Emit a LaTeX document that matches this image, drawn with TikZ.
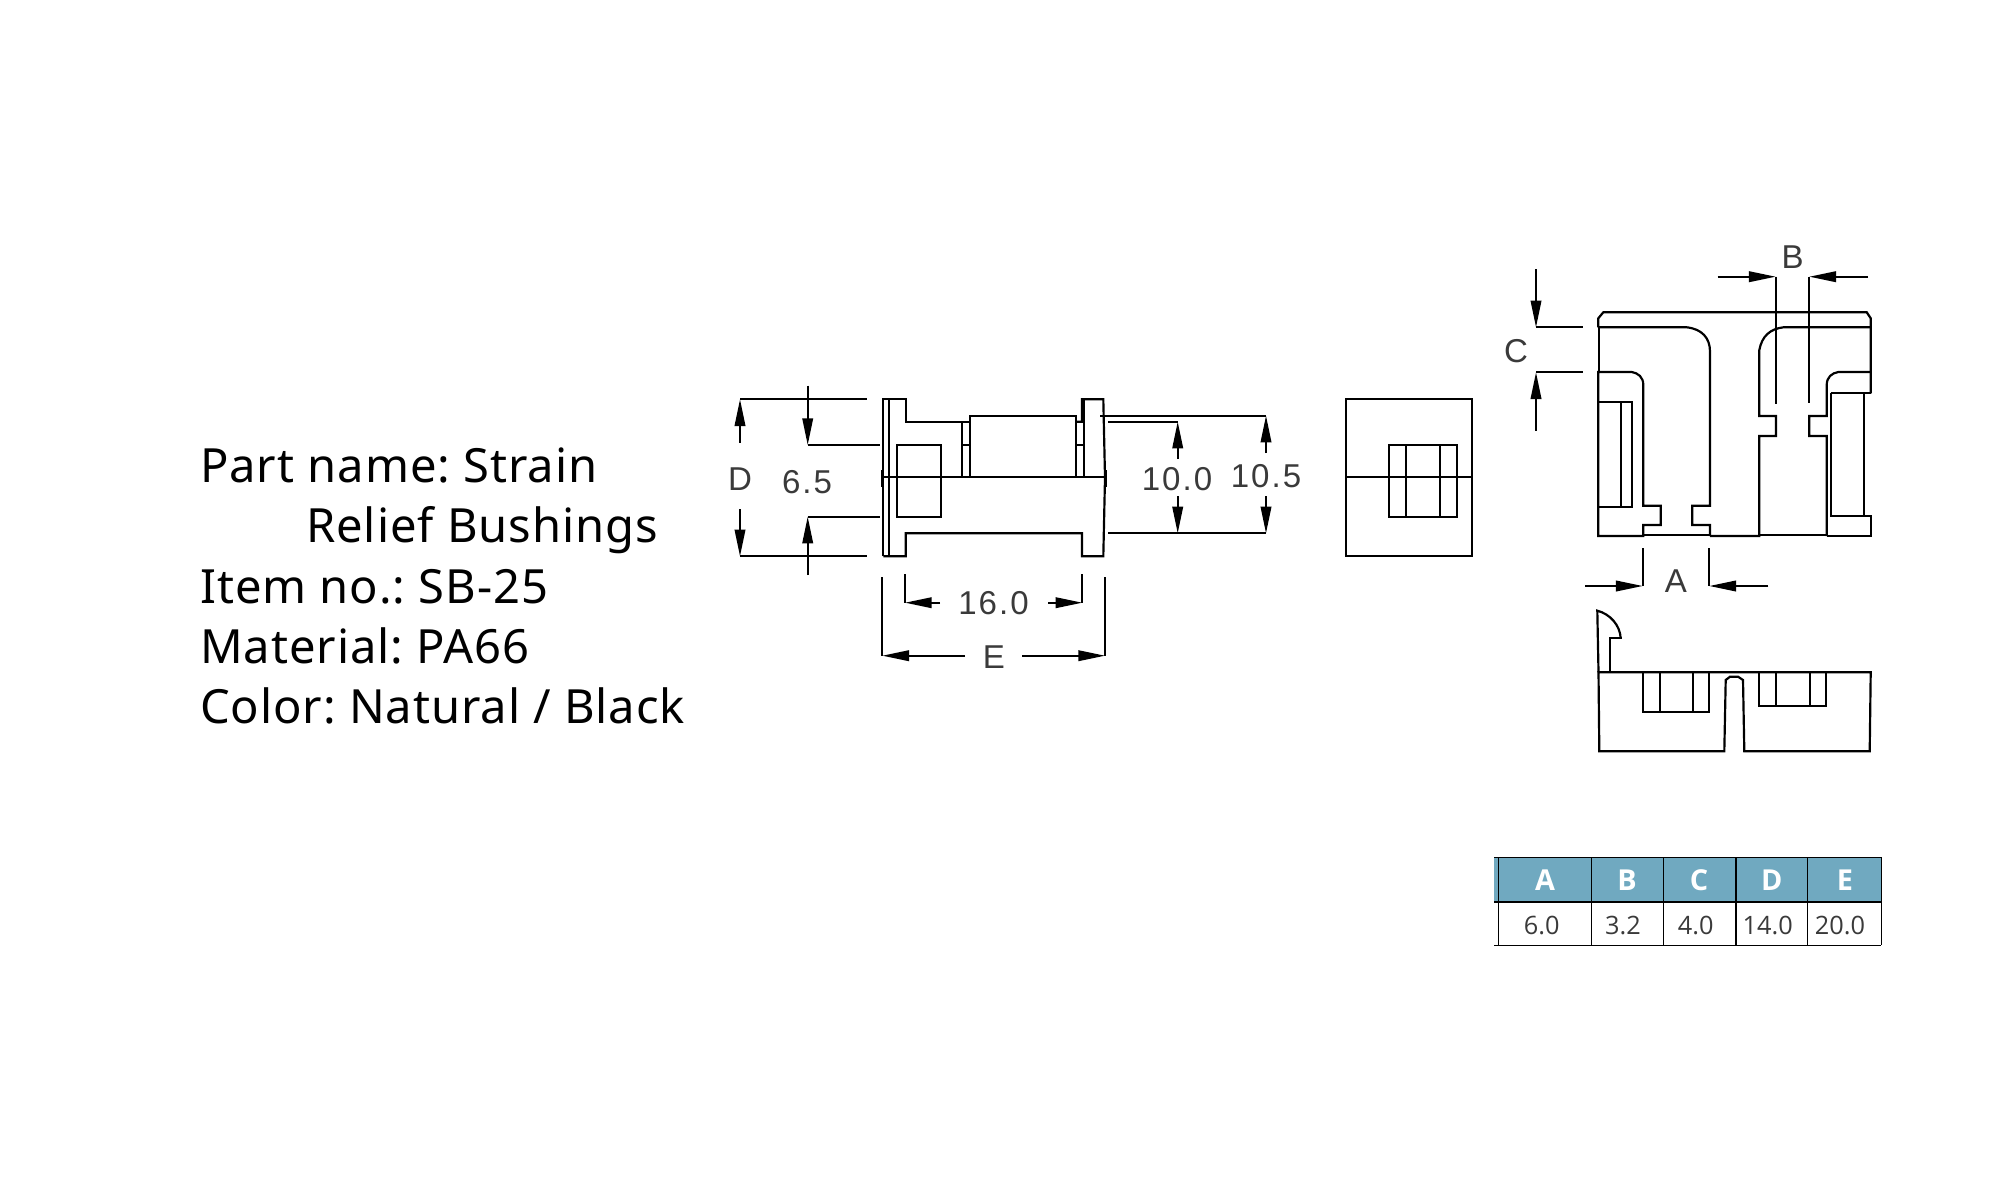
\documentclass[tikz,border=0pt]{standalone}
\usepackage{fontspec}
\setmainfont{Noto Sans}[LetterSpace=2]
\newfontfamily\dimfont{Liberation Sans}[LetterSpace=6]
\newfontfamily\tablefont{Open Sans}
\usetikzlibrary{arrows.meta}
\definecolor{headblue}{HTML}{70A9C0}
\definecolor{dimgrey}{HTML}{3A3A3A}
\tikzset{
  >={Triangle[length=7.6pt,width=3pt]},
  part/.style={line width=0.62pt, line join=miter},
  dimline/.style={line width=0.55pt},
  dimtext/.style={font=\dimfont\fontsize{9.4}{11}\selectfont, text=dimgrey, inner sep=0pt},
  titletext/.style={font=\frenchspacing\fontsize{13.4}{16}\selectfont, anchor=base west, inner sep=0pt},
  headtext/.style={font=\tablefont\bfseries\fontsize{8.2}{10}\selectfont, text=white, inner sep=0pt},
  valtext/.style={font=\tablefont\fontsize{7.2}{9}\selectfont, text=dimgrey, inner sep=0pt},
  rule/.style={line width=0.45pt}
}
\begin{document}
\begin{tikzpicture}[x=0.01cm, y=-0.01cm]
  \useasboundingbox (0, 0) rectangle (2000, 1200);

  % part data
  \node (partname) [titletext] at (199.5, 482.5) {Part name: Strain};
  \node (relief) [titletext] at (305.5, 542.5) {Relief Bushings};
  \node (itemno) [titletext] at (199.5, 603) {Item no.: SB-25};
  \node (material) [titletext] at (199.5, 663) {Material: PA66};
  \node (colour) [titletext] at (199.5, 723) {Color: Natural / Black};

  % side view
  \draw [part] (883.3, 556.3) -- (883.3, 399.3) -- (905.7, 399.3) -- (905.7, 421.7) -- (962, 421.7) -- (970, 421.7);
  \draw [part] (889, 399.3) -- (889, 556.3);
  \draw [part] (883.3, 556.3) -- (905.7, 556.3) -- (905.7, 533.3) -- (1082, 533.3) -- (1082, 556.3) -- (1103.3, 556.3) -- (1105, 477.3) -- (1103.3, 399.3) -- (1082, 399.3) -- (1082, 421.7) -- (1076, 421.7);
  \draw [part] (962, 421.7) -- (962, 477.3);
  \draw [part] (970, 477.3) -- (970, 415.7) -- (1076, 415.7) -- (1076, 477.3);
  \draw [part] (1084, 399.3) -- (1084, 477.3);
  \draw [part] (962, 445.3) -- (970, 445.3);
  \draw [part] (1076, 445.3) -- (1084, 445.3);
  \draw [part] (1076, 421.7) -- (1084, 421.7);
  \draw [part] (883.3, 477.3) -- (1105, 477.3);
  \draw [part] (882.5, 470) -- (882.5, 487);
  \draw [part] (1105.5, 470) -- (1105.5, 487);
  \draw [part] (896.7, 445.3) rectangle (941, 516.7);

  % side view dimensions
  \draw [dimline] (740, 399.3) -- (866.7, 399.3);
  \draw [dimline] (740, 556.3) -- (866.7, 556.3);
  \draw [dimline, ->] (740, 442.7) -- (740, 399.3);
  \draw [dimline, ->] (740, 509.3) -- (740, 556.3);
  \node (dimD) [dimtext] at (740, 479) {D};
  \draw [dimline] (807.7, 445) -- (880, 445);
  \draw [dimline] (807.7, 516.7) -- (880, 516.7);
  \draw [dimline, ->] (807.7, 385.7) -- (807.7, 445);
  \draw [dimline, ->] (807.7, 575) -- (807.7, 516.7);
  \node (dimwaist) [dimtext] at (807, 482) {6.5};
  \draw [dimline] (905, 574) -- (905, 602.7);
  \draw [dimline] (1082.3, 574) -- (1082.3, 602.7);
  \draw [dimline, ->] (940, 602.7) -- (905, 602.7);
  \draw [dimline, ->] (1048, 602.7) -- (1082.3, 602.7);
  \node (dimlength) [dimtext] at (993.5, 603.5) {16.0};
  \draw [dimline] (882.3, 577) -- (882.3, 655.7);
  \draw [dimline] (1105, 577) -- (1105, 655.7);
  \draw [dimline, ->] (965, 655.7) -- (882.3, 655.7);
  \draw [dimline, ->] (1022, 655.7) -- (1105, 655.7);
  \node (dimE) [dimtext] at (994, 657) {E};
  \draw [dimline] (1100, 415.7) -- (1266, 415.7);
  \draw [dimline] (1108, 421.7) -- (1177.7, 421.7);
  \draw [dimline] (1108, 533.3) -- (1266, 533.3);
  \draw [dimline, ->] (1177.7, 459) -- (1177.7, 421.7);
  \draw [dimline, ->] (1177.7, 496) -- (1177.7, 533.3);
  \draw [dimline, ->] (1266, 453) -- (1266, 415.7);
  \draw [dimline, ->] (1266, 496) -- (1266, 533.3);
  \node (dimten) [dimtext] at (1177, 479.5) {10.0};
  \node (dimtenfive) [dimtext] at (1266, 476.5) {10.5};

  % end view
  \draw [part] (1346.3, 399.3) rectangle (1472, 556.3);
  \draw [part] (1346.3, 477.3) -- (1472, 477.3);
  \draw [part] (1389.3, 444.7) rectangle (1456.7, 516.7);
  \draw [part] (1406.3, 444.7) -- (1406.3, 516.7);
  \draw [part] (1440, 444.7) -- (1440, 516.7);

  % front view
  \draw [part] (1598.3, 327.3) -- (1598.3, 318.3) -- (1603.3, 312.3) -- (1866.7, 312.3) -- (1870.7, 318.3) -- (1870.7, 393.3);
  \draw [part] (1598.3, 327.3) -- (1686.7, 327.3) .. controls (1702, 329) and (1710, 338) .. (1710, 351.7) -- (1710, 505.7) -- (1692.3, 505.7) -- (1692.3, 525) -- (1710, 525) -- (1710, 536);
  \draw [part] (1599.3, 327.3) -- (1599.3, 372);
  \draw [part] (1598.3, 536) -- (1598.3, 372) -- (1631.7, 372) .. controls (1638, 373) and (1643.3, 377) .. (1643.3, 385) -- (1643.3, 505.7) -- (1660.7, 505.7) -- (1660.7, 525) -- (1643.3, 525) -- (1643.3, 536) -- cycle;
  \draw [part] (1597.7, 401.7) rectangle (1632, 507.3);
  \draw [part] (1621, 401.7) -- (1621, 507.3);
  \draw [part] (1643.3, 535) -- (1710, 535);
  \draw [part] (1710, 536) -- (1759.3, 536) -- (1759.3, 436) -- (1776, 436) -- (1776, 416) -- (1759.3, 416) -- (1759.3, 350) .. controls (1762, 336) and (1770, 329) .. (1783.3, 327.3) -- (1870.7, 327.3);
  \draw [part] (1870.7, 372) -- (1838.3, 372) .. controls (1832, 373) and (1826.7, 377) .. (1826.7, 385) -- (1826.7, 416) -- (1809.3, 416) -- (1809.3, 436) -- (1826.7, 436) -- (1826.7, 536);
  \draw [part] (1759.3, 535) -- (1826.7, 535);
  \draw [part] (1830.7, 393.3) -- (1870.7, 393.3);
  \draw [part] (1864, 393.3) -- (1864, 515.7);
  \draw [part] (1830.7, 393.3) -- (1830.7, 515.7) -- (1870.7, 515.7) -- (1870.7, 536) -- (1826.7, 536);

  % front view dimensions
  \draw [dimline] (1775.7, 276.7) -- (1775.7, 404);
  \draw [dimline] (1809.3, 276.7) -- (1809.3, 403);
  \draw [dimline, ->] (1717.7, 276.7) -- (1775.7, 276.7);
  \draw [dimline, ->] (1868, 276.7) -- (1809.3, 276.7);
  \node (dimB) [dimtext] at (1792.7, 257) {B};
  \draw [dimline] (1536, 327.3) -- (1583.3, 327.3);
  \draw [dimline] (1536, 372.3) -- (1583.3, 372.3);
  \draw [dimline, ->] (1536, 269) -- (1536, 327.3);
  \draw [dimline, ->] (1536, 430.7) -- (1536, 372.3);
  \node (dimC) [dimtext] at (1516, 351.5) {C};
  \draw [dimline] (1642.7, 548.3) -- (1642.7, 586);
  \draw [dimline] (1709.3, 548.3) -- (1709.3, 586);
  \draw [dimline, ->] (1585, 586) -- (1642.7, 586);
  \draw [dimline, ->] (1768.3, 586) -- (1709.3, 586);
  \node (dimA) [dimtext] at (1676, 581) {A};

  % bottom view
  \draw [part] (1598.5, 672.3) -- (1597.3, 610.7) .. controls (1610, 614) and (1620, 625) .. (1620.7, 638.3);
  \draw [part] (1621.7, 638.3) -- (1610, 638.3) -- (1610, 672.3);
  \draw [part] (1598.5, 672.3) -- (1870.7, 672.3) -- (1869.7, 751.3) -- (1744.3, 751.3) -- (1743, 680) -- (1738, 676.7) -- (1730, 676.7) -- (1725.7, 680) -- (1724.3, 751.3) -- (1599.3, 751.3) -- cycle;
  \draw [part] (1642.7, 672.3) rectangle (1709.3, 712);
  \draw [part] (1660, 672.3) -- (1660, 712);
  \draw [part] (1693.3, 672.3) -- (1693.3, 712);
  \draw [part] (1759.3, 672.3) rectangle (1826.3, 705.7);
  \draw [part] (1776, 672.3) -- (1776, 705.7);
  \draw [part] (1809.7, 672.3) -- (1809.7, 705.7);

  % size table
  \fill [headblue] (1494, 857.3) rectangle (1881.3, 901.7);
  \draw [rule] (1494, 857.3) -- (1881.3, 857.3);
  \draw [rule] (1494, 901.7) -- (1881.3, 901.7);
  \draw [rule] (1494, 945.3) -- (1881.3, 945.3);
  \foreach \x in {1498.3, 1591.3, 1663.3, 1735.7, 1807.3, 1881.3}
    \draw [rule] (\x, 857.3) -- (\x, 945.3);
  \foreach \name/\xhead/\xval/\head/\val in {a/1545/1541.7/A/6.0, b/1627/1623/B/3.2, c/1699/1695.7/C/4.0, d/1771.7/1767.7/D/14.0, e/1845/1840/E/20.0} {
    \node (head\name) [headtext] at (\xhead, 880) {\head};
    \node (val\name) [valtext] at (\xval, 925.5) {\val};
  }
\end{tikzpicture}
\end{document}
